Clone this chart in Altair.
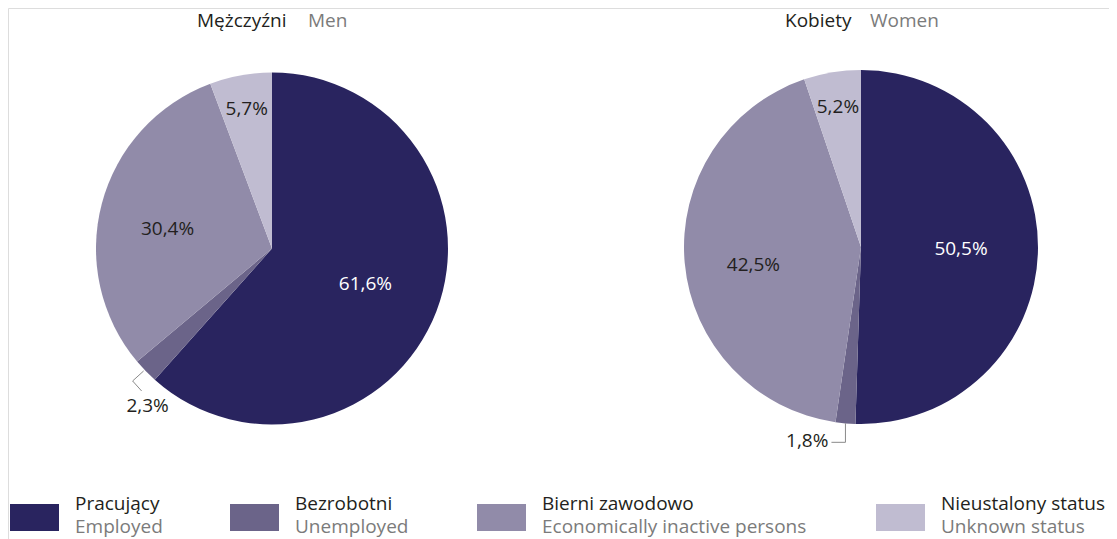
import altair as alt
import pandas as pd

# ---- data ----
categories_pl = ["Pracujący", "Bezrobotni", "Bierni zawodowo", "Nieustalony status"]
categories_en = ["Employed", "Unemployed", "Economically inactive persons", "Unknown status"]
men_values = [61.6, 2.3, 30.4, 5.7]
women_values = [50.5, 1.8, 42.5, 5.2]
colors = ["#29245f", "#6b6489", "#918ba9", "#c0bcd1"]

FONT = "Open Sans"
FS = 19
DARK = "#231f20"
GRAY = "#7b7b7b"
OFF = 8  # page margin

def fmt(v):
    return f"{v:.1f}".replace(".", ",") + "%"

rows = []
for sex, vals in (("men", men_values), ("women", women_values)):
    for i, (c, v) in enumerate(zip(categories_pl, vals)):
        rows.append({"sex": sex, "cat": c, "order": i, "value": v, "label": fmt(v)})
df = pd.DataFrame(rows)

color_scale = alt.Scale(domain=categories_pl, range=colors)

# pie layout: centre, radius, leader shape for the small slice, label offset
pies = {
    "men": dict(cx=272 - OFF, cy=248.5 - OFF, r=176,
                lx=[-2, -13, -4], ly=[0, 10, 20], tdx=2, tdy=35, talign="center"),
    "women": dict(cx=861 - OFF, cy=247 - OFF, r=177,
                  lx=[0, 0, -14], ly=[0, 19, 19], tdx=-17, tdy=18, talign="right"),
}

layers = []
for sex, p in pies.items():
    base = alt.Chart(df).transform_filter(f"datum.sex == '{sex}'")
    arc = base.mark_arc(radius=p["r"]).encode(
        theta=alt.Theta("value:Q", stack=True, scale=alt.Scale(domain=[0, 100])),
        color=alt.Color("cat:N", scale=color_scale, legend=None),
        order=alt.Order("order:Q", sort="ascending"),
        x=alt.value(p["cx"]),
        y=alt.value(p["cy"]),
    )
    geo = base.transform_window(
        cum="sum(value)", sort=[alt.SortField("order")]
    ).transform_calculate(
        mid="(datum.cum - datum.value/2)/100*2*PI",
    ).transform_calculate(
        ex=f"{p['cx']} + {p['r']}*sin(datum.mid)",
        ey=f"{p['cy']} - {p['r']}*cos(datum.mid)",
        lr="datum.value > 45 ? 100 : (datum.value > 10 ? 108 : 142)",
        dy="datum.value > 10 && datum.value < 45 ? 8 : 0",
    )
    inside = geo.transform_filter("datum.value >= 3").transform_calculate(
        tx=f"{p['cx']} + datum.lr*sin(datum.mid)",
        ty=f"{p['cy']} - datum.lr*cos(datum.mid) + datum.dy",
    ).mark_text(font=FONT, fontSize=FS, baseline="middle", align="center").encode(
        x=alt.X("tx:Q", scale=None, axis=None),
        y=alt.Y("ty:Q", scale=None, axis=None),
        text="label:N",
        color=alt.condition("datum.order == 0", alt.value("white"), alt.value(DARK)),
    )
    lxs = ",".join(str(v) for v in p["lx"])
    lys = ",".join(str(v) for v in p["ly"])
    leader = geo.transform_filter("datum.value < 3").transform_calculate(
        step="[0,1,2]"
    ).transform_flatten(["step"]).transform_calculate(
        px=f"datum.ex + [{lxs}][datum.step]",
        py=f"datum.ey + [{lys}][datum.step]",
    ).mark_line(color="#8a8a8a", strokeWidth=1).encode(
        x=alt.X("px:Q", scale=None, axis=None),
        y=alt.Y("py:Q", scale=None, axis=None),
        order="step:Q",
    )
    outside = geo.transform_filter("datum.value < 3").transform_calculate(
        tx=f"datum.ex + {p['tdx']}",
        ty=f"datum.ey + {p['tdy']}",
    ).mark_text(font=FONT, fontSize=FS, baseline="middle", align=p["talign"], color=DARK).encode(
        x=alt.X("tx:Q", scale=None, axis=None),
        y=alt.Y("ty:Q", scale=None, axis=None),
        text="label:N",
    )
    layers += [arc, inside, leader, outside]

# titles
titles = [
    ("Mężczyźni", 197, DARK), ("Men", 308, GRAY),
    ("Kobiety", 785, DARK), ("Women", 870, GRAY),
]
for txt, x, col in titles:
    layers.append(
        alt.Chart(pd.DataFrame({"t": [txt]})).mark_text(
            font=FONT, fontSize=FS, align="left", baseline="alphabetic", color=col
        ).encode(text="t:N", x=alt.value(x - OFF), y=alt.value(26.5 - OFF))
    )

# custom legend
legend_x = [10, 230, 477, 876]
leg = pd.DataFrame({
    "cat": categories_pl, "en": categories_en,
    "x0": [x - OFF for x in legend_x],
})
leg["x1"] = leg["x0"] + 49
leg["tx"] = leg["x0"] + 65
leg["y0"] = 504 - OFF
leg["y1"] = 531 - OFF
leg["ty1"] = 510 - OFF
leg["ty2"] = 533 - OFF
lb = alt.Chart(leg)
layers.append(lb.mark_rect().encode(
    x=alt.X("x0:Q", scale=None, axis=None), x2="x1:Q",
    y=alt.Y("y0:Q", scale=None, axis=None), y2="y1:Q",
    color=alt.Color("cat:N", scale=color_scale, legend=None),
))
layers.append(lb.mark_text(font=FONT, fontSize=FS, align="left", baseline="alphabetic", color=DARK).encode(
    x=alt.X("tx:Q", scale=None, axis=None), y=alt.Y("ty1:Q", scale=None, axis=None), text="cat:N"))
layers.append(lb.mark_text(font=FONT, fontSize=FS, align="left", baseline="alphabetic", color=GRAY).encode(
    x=alt.X("tx:Q", scale=None, axis=None), y=alt.Y("ty2:Q", scale=None, axis=None), text="en:N"))

chart = alt.layer(*layers).properties(
    width=1101, height=531, padding=0,
    autosize=alt.AutoSizeParams(type="none"),
).configure_view(stroke="transparent", strokeWidth=0).configure(background="white")

chart.save("out.html", embed_options={"renderer": "svg", "actions": False})
